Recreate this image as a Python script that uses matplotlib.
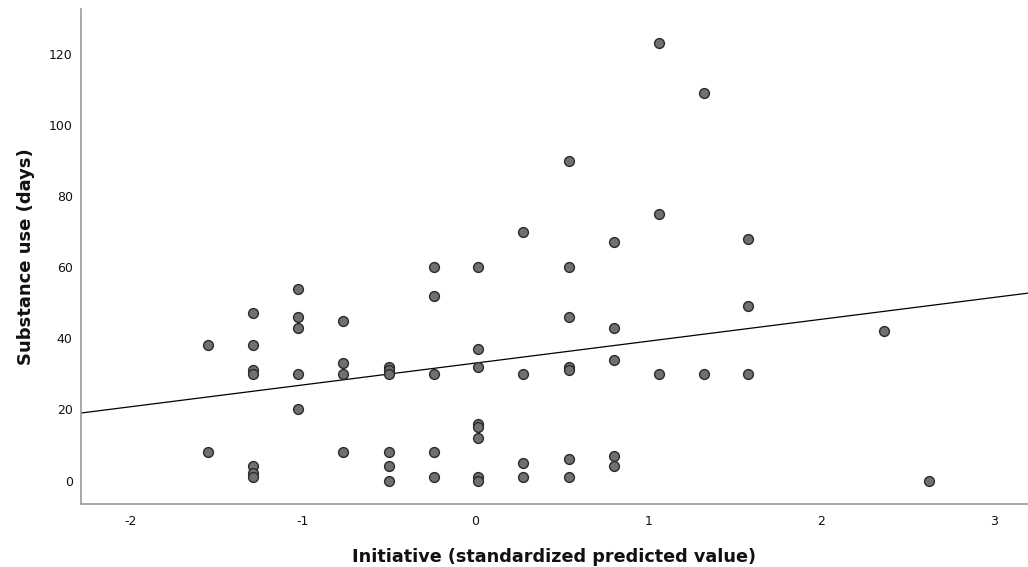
import numpy as np
import matplotlib
matplotlib.use('Agg')
import matplotlib.pyplot as plt

# Standardized predicted value of initiative (x) and substance use days (y)
x_vals = ([-1.546] * 2 + [-1.286] * 7 + [-1.025] * 5 + [-0.768] * 4 +
          [-0.503] * 6 + [-0.243] * 5 + [0.014] * 8 + [0.275] * 4 +
          [0.539] * 7 + [0.800] * 5 + [1.061] * 3 + [1.320] * 2 +
          [1.579] * 3 + [2.363] * 1 + [2.623] * 1)
y_vals = [38, 8,
          47, 38, 31, 30, 4, 2, 1,
          54, 46, 43, 30, 20,
          45, 33, 30, 8,
          32, 31, 30, 8, 4, 0,
          60, 52, 30, 8, 1,
          60, 37, 32, 16, 15, 12, 1, 0,
          70, 30, 5, 1,
          90, 60, 46, 32, 31, 6, 1,
          67, 43, 34, 7, 4,
          123, 75, 30,
          109, 30,
          68, 49, 30,
          42,
          0]

# Fit line
fit_intercept = 33.05
fit_slope = 6.15

x_ticks = [-2, -1, 0, 1, 2, 3]
y_ticks = [0, 20, 40, 60, 80, 100, 120]
xmin, xmax = -2.284, 3.197
ymin, ymax = -6.6, 132.6

fig = plt.figure(figsize=[10.28, 5.67], dpi=100)
ax = fig.add_axes([0.0788, 0.111, 0.921, 0.873])

ax.scatter(x_vals, y_vals, s=50, facecolor='#707070', edgecolor='#2a2a2a',
           linewidths=1.0, zorder=3)

lx = np.array([xmin, xmax])
ax.plot(lx, fit_intercept + fit_slope * lx, color='black', lw=0.9, zorder=2)

ax.set_xlim([xmin, xmax])
ax.set_ylim([ymin, ymax])
ax.set_xticks(x_ticks)
ax.set_yticks(y_ticks)
ax.set_xticklabels(['-2' if t == -2 else ('-1' if t == -1 else str(t))
                    for t in x_ticks])
ax.tick_params(length=0, labelsize=9, colors='#111111')
ax.tick_params(axis='x', pad=8)
ax.tick_params(axis='y', pad=6)

for s in ['top', 'right']:
    ax.spines[s].set_visible(False)
for s in ['left', 'bottom']:
    ax.spines[s].set_color('#999999')
    ax.spines[s].set_linewidth(1.2)

ax.set_xlabel('Initiative (standardized predicted value)', fontsize=12.7,
              fontweight='bold', labelpad=14, color='#111111')
ax.set_ylabel('Substance use (days)', fontsize=13, fontweight='bold',
              labelpad=10, color='#111111')

plt.savefig('out.png', dpi=100)
